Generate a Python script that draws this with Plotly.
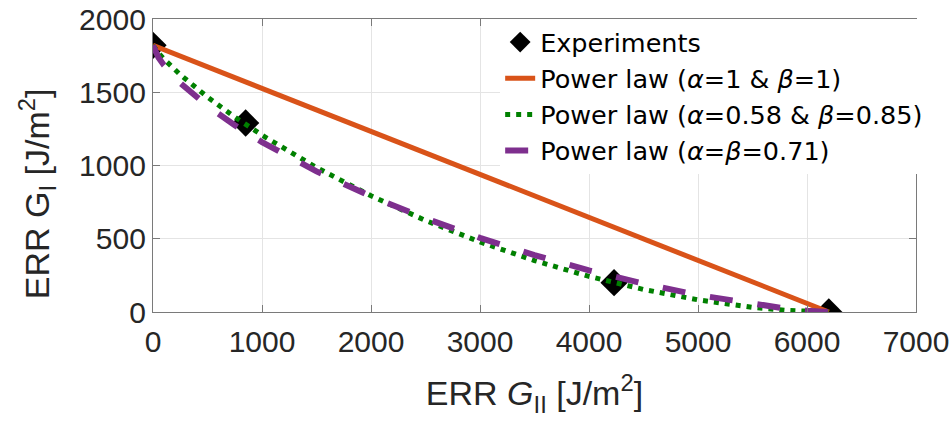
import plotly.graph_objects as go

# Measured critical energy release rates (mode II on x, mode I on y)
exp_gii = [0, 850, 4230, 6200]
exp_gi = [1820, 1290, 200, 0]

# Linear interaction (alpha = beta = 1)
lin_gii = [0, 6200]
lin_gi = [1820, 0]

# Sampled points of the fitted power-law envelopes
curve_gii = [0, 25, 50, 100, 250, 500, 750, 1000, 1500, 2000, 2500, 3000,
             3500, 4000, 4500, 5000, 5500, 5800, 6000, 6200]
fit_a058_b085 = [1820, 1791, 1768, 1727, 1620, 1467, 1331, 1207, 986, 793, 625, 478,
                 351, 243, 154, 83, 32, 12, 4, 0]
fit_a071_b071 = [1820, 1769, 1737, 1685, 1563, 1406, 1275, 1160, 960, 789, 639, 506,
                 388, 284, 194, 116, 53, 24, 9, 0]

x_ticks = [0, 1000, 2000, 3000, 4000, 5000, 6000, 7000]
y_ticks = [0, 500, 1000, 1500, 2000]

FONT = "Liberation Sans, Arial, Helvetica, sans-serif"
LEGEND_FONT = "DejaVu Sans, Liberation Sans, sans-serif"
AXIS_GRAY = "#7a7a7a"
GRID_GRAY = "#e4e4e4"
TICK_TEXT = "#262626"

fig = go.Figure()

fig.add_trace(go.Scatter(
    x=exp_gii, y=exp_gi, mode="markers", name="Experiments",
    marker=dict(symbol="diamond", size=21, color="black", line=dict(width=0)),
))
fig.add_trace(go.Scatter(
    x=lin_gii, y=lin_gi, mode="lines",
    name="Power law (<i>α</i>=1 &amp; <i>β</i>=1)",
    line=dict(color="#D95319", width=5),
))
fig.add_trace(go.Scatter(
    x=curve_gii, y=fit_a058_b085, mode="lines",
    name="Power law (<i>α</i>=0.58 &amp; <i>β</i>=0.85)",
    line=dict(color="#008000", width=5, dash="5px,6px"),
))
fig.add_trace(go.Scatter(
    x=curve_gii, y=fit_a071_b071, mode="lines",
    name="Power law (<i>α</i>=<i>β</i>=0.71)",
    line=dict(color="#7E2F8E", width=6, dash="23px,25px"),
))

axis_common = dict(
    showgrid=True, gridcolor=GRID_GRAY, gridwidth=1,
    zeroline=False, automargin=False,
    showline=True, linecolor=AXIS_GRAY, linewidth=1.3, mirror="ticks",
    ticks="inside", ticklen=7, tickwidth=1.3, tickcolor=AXIS_GRAY,
    tickfont=dict(family=FONT, size=30, color=TICK_TEXT),
)

fig.update_xaxes(
    range=[0, 7000], tickvals=x_ticks, ticktext=[str(v) for v in x_ticks],
    ticklabelstandoff=3,
    title=dict(text="ERR <i>G</i><sub>II</sub> [J/m<sup>2</sup>]",
               font=dict(family=FONT, size=34, color=TICK_TEXT), standoff=24),
    **axis_common,
)
fig.update_yaxes(
    range=[0, 2000], tickvals=y_ticks, ticktext=[str(v) for v in y_ticks],
    **axis_common,
)

# Vertical axis label, placed as a rotated annotation left of the tick labels
fig.add_annotation(
    text="ERR G<sub>I</sub> [J/m<sup>2</sup>]",
    xref="paper", yref="paper", x=-0.152, y=0.402,
    xanchor="center", yanchor="middle", textangle=-90, showarrow=False,
    font=dict(family=FONT, size=34, color=TICK_TEXT),
)

fig.update_layout(
    width=952, height=425,
    margin=dict(l=153, r=36, t=19, b=113, autoexpand=False),
    paper_bgcolor="white", plot_bgcolor="white",
    showlegend=True,
    legend=dict(
        x=0.455, y=1.0, xanchor="left", yanchor="top",
        bgcolor="white", borderwidth=0,
        font=dict(family=LEGEND_FONT, size=25.5, color="black"),
        tracegroupgap=0, itemwidth=30,
    ),
)

fig.write_html("out.html")
